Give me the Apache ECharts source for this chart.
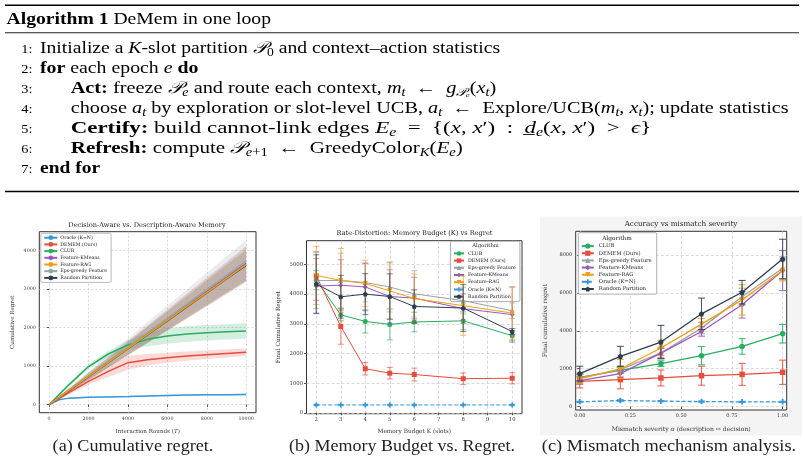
<!DOCTYPE html>
<html><head><meta charset="utf-8">
<script src="https://cdn.jsdelivr.net/npm/echarts@6/dist/echarts.min.js"></script>
<style>html,body{margin:0;padding:0;background:#fff}#c{width:805px;height:461px}</style>
</head><body><div id="c"></div>
<script>
// ---------------- DATA ----------------
// (a) cumulative regret vs interaction rounds
const roundsA = [0, 500, 1000, 2000, 3000, 4000, 5000, 6000, 7000, 8000, 9000, 10000];
const oracleA = [0, 120, 165, 185, 195, 205, 220, 235, 245, 250, 255, 262];
const oracleBandA = [0, 15, 15, 15, 15, 18, 18, 20, 20, 20, 20, 20];
const demA = [0, 150, 310, 600, 860, 1085, 1160, 1215, 1255, 1290, 1325, 1355];
const demBandA = [0, 30, 55, 80, 150, 180, 150, 130, 120, 110, 105, 100];
const clubA = [0, 250, 510, 985, 1310, 1545, 1690, 1775, 1830, 1860, 1885, 1905];
const clubBandA = [0, 25, 45, 60, 80, 120, 180, 200, 200, 200, 200, 200];
const kmeansA = [0, 183, 366, 732, 1098, 1464, 1830, 2196, 2562, 2928, 3294, 3660];
const kmeansBandA = [0, 20, 45, 90, 135, 180, 225, 270, 315, 360, 405, 450];
const ragA = [0, 182, 364, 728, 1090, 1455, 1818, 2180, 2545, 2905, 3268, 3630];
const ragBandA = [0, 20, 45, 90, 135, 180, 225, 270, 315, 360, 405, 450];
const epsA = [0, 186, 372, 745, 1118, 1490, 1862, 2235, 2608, 2980, 3350, 3720];
const epsBandA = [0, 28, 55, 110, 165, 220, 275, 330, 385, 440, 495, 550];
const randA = [0, 181, 362, 724, 1086, 1448, 1810, 2172, 2534, 2896, 3258, 3610];
const randBandA = [0, 20, 40, 80, 120, 160, 200, 240, 280, 320, 360, 400];
const xTicksA = [0, 2000, 4000, 6000, 8000, 10000];
const yTicksA = [0, 1000, 2000, 3000, 4000];

// (b) final regret vs memory budget K
const budgetB = [2, 3, 4, 5, 6, 8, 10];
const clubB = [4470, 3300, 3080, 2980, 3060, 3100, 2600];
const clubErrB = [320, 200, 390, 520, 330, 300, 170];
const demB = [4610, 2910, 1485, 1335, 1290, 1150, 1165];
const demErrB = [820, 600, 210, 195, 215, 195, 190];
const epsB = [4460, 4460, 4390, 4240, 4010, 3780, 3440];
const epsErrB = [950, 920, 650, 840, 780, 450, 260];
const kmeansB = [4270, 4300, 4240, 3920, 3865, 3510, 3310];
const kmeansErrB = [930, 860, 800, 900, 700, 500, 930];
const ragB = [4630, 4460, 4360, 4110, 3850, 3610, 3360];
const ragErrB = [980, 1080, 780, 950, 830, 1000, 880];
const oracleB = [265, 265, 265, 265, 265, 265, 265];
const oracleErrB = [25, 25, 25, 25, 25, 25, 25];
const randB = [4340, 3910, 4000, 3920, 3585, 3530, 2740];
const randErrB = [985, 720, 690, 765, 560, 790, 100];
const xTicksB = [2, 3, 4, 5, 6, 7, 8, 9, 10];
const yTicksB = [0, 1000, 2000, 3000, 4000, 5000];

// (c) final regret vs mismatch severity
const severityC = [0, 0.2, 0.4, 0.6, 0.8, 1.0];
const clubC = [1545, 1910, 2265, 2685, 3175, 3845];
const clubErrC = [180, 150, 150, 480, 410, 490];
const demC = [1335, 1420, 1510, 1630, 1700, 1810];
const demErrC = [350, 480, 420, 500, 580, 640];
const epsC = [1510, 1950, 2830, 4140, 5800, 7300];
const epsErrC = [250, 200, 300, 300, 450, 600];
const kmeansC = [1370, 1740, 2820, 3965, 5370, 7180];
const kmeansErrC = [200, 180, 250, 250, 700, 1060];
const ragC = [1460, 1985, 3090, 4350, 5630, 7180];
const ragErrC = [250, 500, 400, 300, 800, 550];
const oracleC = [250, 320, 285, 265, 250, 250];
const oracleErrC = [30, 40, 30, 30, 30, 30];
const randC = [1740, 2650, 3405, 4895, 6035, 7790];
const randErrC = [390, 530, 880, 830, 620, 1040];
const xTicksC = [0, 0.25, 0.5, 0.75, 1.0];
const yTicksC = [0, 2000, 4000, 6000, 8000];

// ---------------- STYLE ----------------
const SERIF = "'DejaVu Serif', serif";
const TEX = "'Liberation Serif', 'Times New Roman', serif";
const COL = {club:'#27ae60', dem:'#e74c3c', eps:'#95a5a6', kmeans:'#9b59b6', rag:'#f39c12', oracle:'#3498db', rand:'#2c3e50'};
const NAMES = {club:'CLUB', dem:'DEMEM (Ours)', eps:'Eps-greedy Feature', kmeans:'Feature-KMeans', rag:'Feature-RAG', oracle:'Oracle (K=N)', rand:'Random Partition'};
const SYM = {
  club:'circle', dem:'rect', eps:'triangle',
  kmeans:'path://M0,-1 L1,0 L0,1 L-1,0 Z',
  rag:'path://M-1,-0.85 L1,-0.85 L0,1 Z',
  oracle:'path://M-0.33,-1 L0.33,-1 L0.33,-0.33 L1,-0.33 L1,0.33 L0.33,0.33 L0.33,1 L-0.33,1 L-0.33,0.33 L-1,0.33 L-1,-0.33 L-0.33,-0.33 Z',
  rand:'path://M0,-1 L0.951,-0.309 L0.588,0.809 L-0.588,0.809 L-0.951,-0.309 Z'
};

function gridDef(l, t, w, h, bg) {
  return {left:l, top:t, width:w, height:h, show:true, backgroundColor:bg || '#fff', borderColor:'#333', borderWidth:1, containLabel:false};
}
function axisDef(gi, min, max, ticks, fs, fmt, name, nameGap, nameFs, rich, dashed) {
  return {
    type:'value', gridIndex:gi, min:min, max:max,
    axisLine:{show:false},
    axisTick:{show:true, length:2.5, lineStyle:{color:'#333', width:0.8}, customValues:ticks},
    axisLabel:{fontSize:fs, fontFamily:SERIF, color:'#333', margin:3.5, customValues:ticks, formatter:fmt || (v=>String(v)), hideOverlap:false},
    splitLine:{show:true, lineStyle:{color:'#c8c8c8', width:0.7, type:dashed ? [3,2] : [2,2]}},
    name:name, nameLocation:'middle', nameGap:nameGap,
    nameTextStyle:{fontSize:nameFs, fontFamily:SERIF, color:'#333', rich:rich || {}}
  };
}

function bandSeries(xs, mean, band, color, alpha) {
  return {type:'custom', xAxisIndex:0, yAxisIndex:0, silent:true, z:1, clip:true,
    encode:{x:0, y:1}, data:[[xs[0], mean[0]]],
    renderItem:(p, api) => {
      const pts = [];
      for (let i = 0; i < xs.length; i++) pts.push(api.coord([xs[i], mean[i] + band[i]]));
      for (let i = xs.length - 1; i >= 0; i--) pts.push(api.coord([xs[i], mean[i] - band[i]]));
      return {type:'polygon', shape:{points:pts}, style:{fill:color, opacity:alpha}};
    }};
}
function errSeries(gi, xs, mean, err, color, cap, lw, alpha, z) {
  return {type:'custom', xAxisIndex:gi, yAxisIndex:gi, silent:true, z:z, clip:false,
    encode:{x:0, y:1}, data:xs.map((x, j) => [x, mean[j], err[j]]),
    renderItem:(p, api) => {
      const x = api.value(0), m = api.value(1), e = api.value(2);
      const t = api.coord([x, m + e]), b = api.coord([x, m - e]);
      const st = {stroke:color, lineWidth:lw, opacity:alpha};
      return {type:'group', children:[
        {type:'line', shape:{x1:t[0], y1:t[1], x2:b[0], y2:b[1]}, style:st},
        {type:'line', shape:{x1:t[0]-cap, y1:t[1], x2:t[0]+cap, y2:t[1]}, style:st},
        {type:'line', shape:{x1:b[0]-cap, y1:b[1], x2:b[0]+cap, y2:b[1]}, style:st}
      ]};
    }};
}
function lineA(key, ys) {
  return {type:'line', name:'a:' + NAMES[key], xAxisIndex:0, yAxisIndex:0, data:roundsA.map((x, i) => [x, ys[i]]),
    symbol:'none', smooth:false, lineStyle:{color:COL[key], width:1.5}, itemStyle:{color:COL[key]}, z:3, silent:true};
}
function markLine(gi, prefix, key, xs, ys, size, lw, z) {
  return {type:'line', name:prefix + NAMES[key], xAxisIndex:gi, yAxisIndex:gi, data:xs.map((x, i) => [x, ys[i]]),
    symbol:SYM[key], symbolSize:size, showAllSymbol:true,
    lineStyle:{color:COL[key], width:lw, type:key === 'oracle' ? [4, 2] : 'solid'},
    itemStyle:{color:COL[key], opacity:1}, z:z, silent:true};
}

// ---------------- SERIES ----------------
const series = [];
series.push(bandSeries(roundsA, oracleA, oracleBandA, COL.oracle, 0.2));
series.push(bandSeries(roundsA, demA, demBandA, COL.dem, 0.2));
series.push(bandSeries(roundsA, clubA, clubBandA, COL.club, 0.2));
series.push(bandSeries(roundsA, kmeansA, kmeansBandA, COL.kmeans, 0.2));
series.push(bandSeries(roundsA, ragA, ragBandA, COL.rag, 0.2));
series.push(bandSeries(roundsA, epsA, epsBandA, COL.eps, 0.2));
series.push(bandSeries(roundsA, randA, randBandA, COL.rand, 0.15));
series.push(lineA('oracle', oracleA));
series.push(lineA('dem', demA));
series.push(lineA('club', clubA));
series.push(lineA('kmeans', kmeansA));
series.push(lineA('eps', epsA));
series.push(lineA('rand', randA));
series.push(lineA('rag', ragA));

const bList = [['club', clubB, clubErrB], ['dem', demB, demErrB], ['eps', epsB, epsErrB], ['kmeans', kmeansB, kmeansErrB],
  ['rag', ragB, ragErrB], ['oracle', oracleB, oracleErrB], ['rand', randB, randErrB]];
bList.forEach((d, k) => {
  series.push(errSeries(1, budgetB, d[1], d[2], COL[d[0]], 3, 1.1, 0.6, 3 + k * 2));
  series.push(markLine(1, 'b:', d[0], budgetB, d[1], 5, 1, 4 + k * 2));
});
const cList = [['club', clubC, clubErrC], ['dem', demC, demErrC], ['eps', epsC, epsErrC], ['kmeans', kmeansC, kmeansErrC],
  ['rag', ragC, ragErrC], ['oracle', oracleC, oracleErrC], ['rand', randC, randErrC]];
cList.forEach((d, k) => {
  series.push(errSeries(2, severityC, d[1], d[2], COL[d[0]], 3.5, 1.1, 0.85, 3 + k * 2));
  series.push(markLine(2, 'c:', d[0], severityC, d[1], 5.5, 1.3, 4 + k * 2));
});

// ---------------- TEXT / GRAPHIC ----------------
const richTex = {
  b:{fontWeight:'bold', fontSize:16.5, fontFamily:TEX, lineHeight:20},
  i:{fontStyle:'italic', fontSize:16.5, fontFamily:TEX, lineHeight:20},
  s:{fontStyle:'italic', fontSize:11.5, fontFamily:TEX, lineHeight:13, verticalAlign:'bottom'},
  r:{fontSize:11.5, fontFamily:TEX, lineHeight:13, verticalAlign:'bottom'}
};
function texLine(x, y, txt, sx) {
  return {type:'text', x:x, y:y, z:100, silent:true, scaleX:sx || 1.2,
    style:{text:txt, fontSize:16.5, fontFamily:TEX, fill:'#000', lineHeight:20, verticalAlign:'middle', align:'left', rich:richTex}};
}
function numLabel(y, n) {
  return {type:'text', x:32.5, y:y + 1, z:100, silent:true, scaleX:1.15,
    style:{text:n + ':', fontSize:12.5, fontFamily:TEX, fill:'#000', verticalAlign:'middle', align:'right'}};
}
function txt(x, y, s, fs, fam, sx, rich) {
  return {type:'text', x:x, y:y, z:100, silent:true, scaleX:sx || 1,
    style:{text:s, fontSize:fs, fontFamily:fam, fill:'#222', verticalAlign:'middle', align:'center', rich:rich || {}}};
}
const E = '\u2002';
const lineY = [48.5, 68.6, 88.7, 108.8, 128.9, 149, 169.1];
const algoLines = [
  [40, 'Initialize a {i|K}-slot partition {i|𝒫}{r|0} and context–action statistics', 1.19],
  [40, '{b|for} each epoch {i|e} {b|do}', 1.2],
  [70.7, '{b|Act:} freeze {i|𝒫}{s|e} and route each context, {i|m}{s|t}' + E + '←' + E + '{i|g}{s|𝒫ₑ}({i|x}{s|t})', 1.23],
  [70.7, 'choose {i|a}{s|t} by exploration or slot-level UCB, {i|a}{s|t}' + E + '←' + E + 'Explore/UCB({i|m}{s|t}, {i|x}{s|t}); update statistics', 1.228],
  [70.7, '{b|Certify:} build cannot-link edges {i|E}{s|e}' + E + '=' + E + '{({i|x}, {i|x}′)' + E + ':' + E + '{i|d̲}{s|e}({i|x}, {i|x}′)' + E + '>' + E + '{i|ϵ}}', 1.39],
  [70.7, '{b|Refresh:} compute {i|𝒫}{s|e}{r|+1}' + E + '←' + E + 'GreedyColor{s|K}({i|E}{s|e})', 1.275],
  [40, '{b|end for}', 1.18]
];
const graphics = [
  {type:'rect', shape:{x:540, y:216.5, width:262, height:219}, style:{fill:'#f4f4f4'}, z:-10, silent:true},
  {type:'rect', shape:{x:5, y:4.5, width:794, height:1.5}, style:{fill:'#000'}, z:100, silent:true},
  {type:'rect', shape:{x:5, y:32.3, width:794, height:1}, style:{fill:'#222'}, z:100, silent:true},
  {type:'rect', shape:{x:5, y:190.8, width:794, height:1.5}, style:{fill:'#000'}, z:100, silent:true},
  texLine(6.5, 19.5, '{b|Algorithm 1} DeMem in one loop', 1.19)
];
algoLines.forEach((l, i) => { graphics.push(numLabel(lineY[i], i + 1)); graphics.push(texLine(l[0], lineY[i], l[1], l[2])); });
graphics.push(txt(147, 225, 'Decision-Aware vs. Description-Aware Memory', 6.6, SERIF));
graphics.push(txt(414.5, 233, 'Rate-Distortion: Memory Budget (K) vs Regret', 6.6, SERIF));
graphics.push(txt(681, 224.5, 'Accuracy vs mismatch severity', 7.2, SERIF));
graphics.push(txt(485.5, 245.5, 'Algorithm', 5.2, SERIF));
graphics.push(txt(617, 238.8, 'Algorithm', 5.8, SERIF));
graphics.push(txt(133, 446.5, '(a) Cumulative regret.', 16.5, TEX, 1.1));
graphics.push(txt(402, 446.5, '(b) Memory Budget vs. Regret.', 16.5, TEX, 1.09));
graphics.push(txt(669, 446.5, '(c) Mismatch mechanism analysis.', 16.5, TEX, 1.11));

// ---------------- OPTION ----------------
const italicRich = fs => ({i:{fontStyle:'italic', fontSize:fs, fontFamily:SERIF, color:'#333'}, n:{fontSize:fs, fontFamily:SERIF, color:'#333'}});
const option = {
  animation:false,
  backgroundColor:'#fff',
  grid:[gridDef(39.3, 231.7, 216.7, 181), gridDef(306.5, 240.7, 215.5, 173), gridDef(575.7, 231.3, 211, 178.7)],
  xAxis:[
    axisDef(0, -500, 10500, xTicksA, 4.8, null, '{n|Interaction Rounds (}{i|T}{n|)}', 15.5, 5.6, italicRich(5.6)),
    axisDef(1, 1.6, 10.4, xTicksB, 5.3, null, 'Memory Budget K (slots)', 15, 5.8, null, true),
    axisDef(2, -0.02, 1.02, xTicksC, 5, v => v.toFixed(2), '{n|Mismatch severity }{i|α}{n| (description ↔ decision)}', 16, 6.1, italicRich(6.1), true)
  ],
  yAxis:[
    axisDef(0, -213, 4483, yTicksA, 4.8, null, 'Cumulative Regret', 24, 5.6),
    axisDef(1, -30, 5800, yTicksB, 5.3, null, 'Final Cumulative Regret', 25.5, 5.8, null, true),
    axisDef(2, -180, 9250, yTicksC, 5, null, 'Final cumulative regret', 27, 6.1, null, true)
  ],
  legend:[
    {orient:'vertical', left:40.8, top:233.2, itemWidth:13, itemHeight:6, itemGap:1.7, padding:[2, 4, 2, 2.5],
     data:['oracle', 'dem', 'club', 'kmeans', 'rag', 'eps', 'rand'].map(k => 'a:' + NAMES[k]),
     formatter:n => n.slice(2), textStyle:{fontSize:4.7, fontFamily:SERIF, color:'#222', padding:[0, 0, 0, -2]},
     backgroundColor:'rgba(255,255,255,0.9)', borderColor:'#aaa', borderWidth:0.8, borderRadius:1.5, selectedMode:false},
    {orient:'vertical', left:450.5, top:241.2, itemWidth:10, itemHeight:5.6, itemGap:2.2, padding:[9.7, 4, 2.5, 2.5],
     data:['club', 'dem', 'eps', 'kmeans', 'rag', 'oracle', 'rand'].map(k => 'b:' + NAMES[k]),
     formatter:n => n.slice(2), textStyle:{fontSize:4.8, fontFamily:SERIF, color:'#222', padding:[0, 0, 0, -1]},
     backgroundColor:'rgba(255,255,255,0.9)', borderColor:'#999', borderWidth:0.8, borderRadius:1.5, selectedMode:false},
    {orient:'vertical', left:578.3, top:232.7, itemWidth:12, itemHeight:6.5, itemGap:1.95, padding:[10.8, 5, 2.5, 2.5],
     data:['club', 'dem', 'eps', 'kmeans', 'rag', 'oracle', 'rand'].map(k => 'c:' + NAMES[k]),
     formatter:n => n.slice(2), textStyle:{fontSize:5.3, fontFamily:SERIF, color:'#222'},
     backgroundColor:'rgba(255,255,255,0.9)', borderColor:'#999', borderWidth:0.8, borderRadius:1.5, selectedMode:false}
  ],
  graphic:graphics,
  series:series
};
const chart = echarts.init(document.getElementById('c'), null, {renderer:'canvas', width:805, height:461});
chart.setOption(option);
</script></body></html>
